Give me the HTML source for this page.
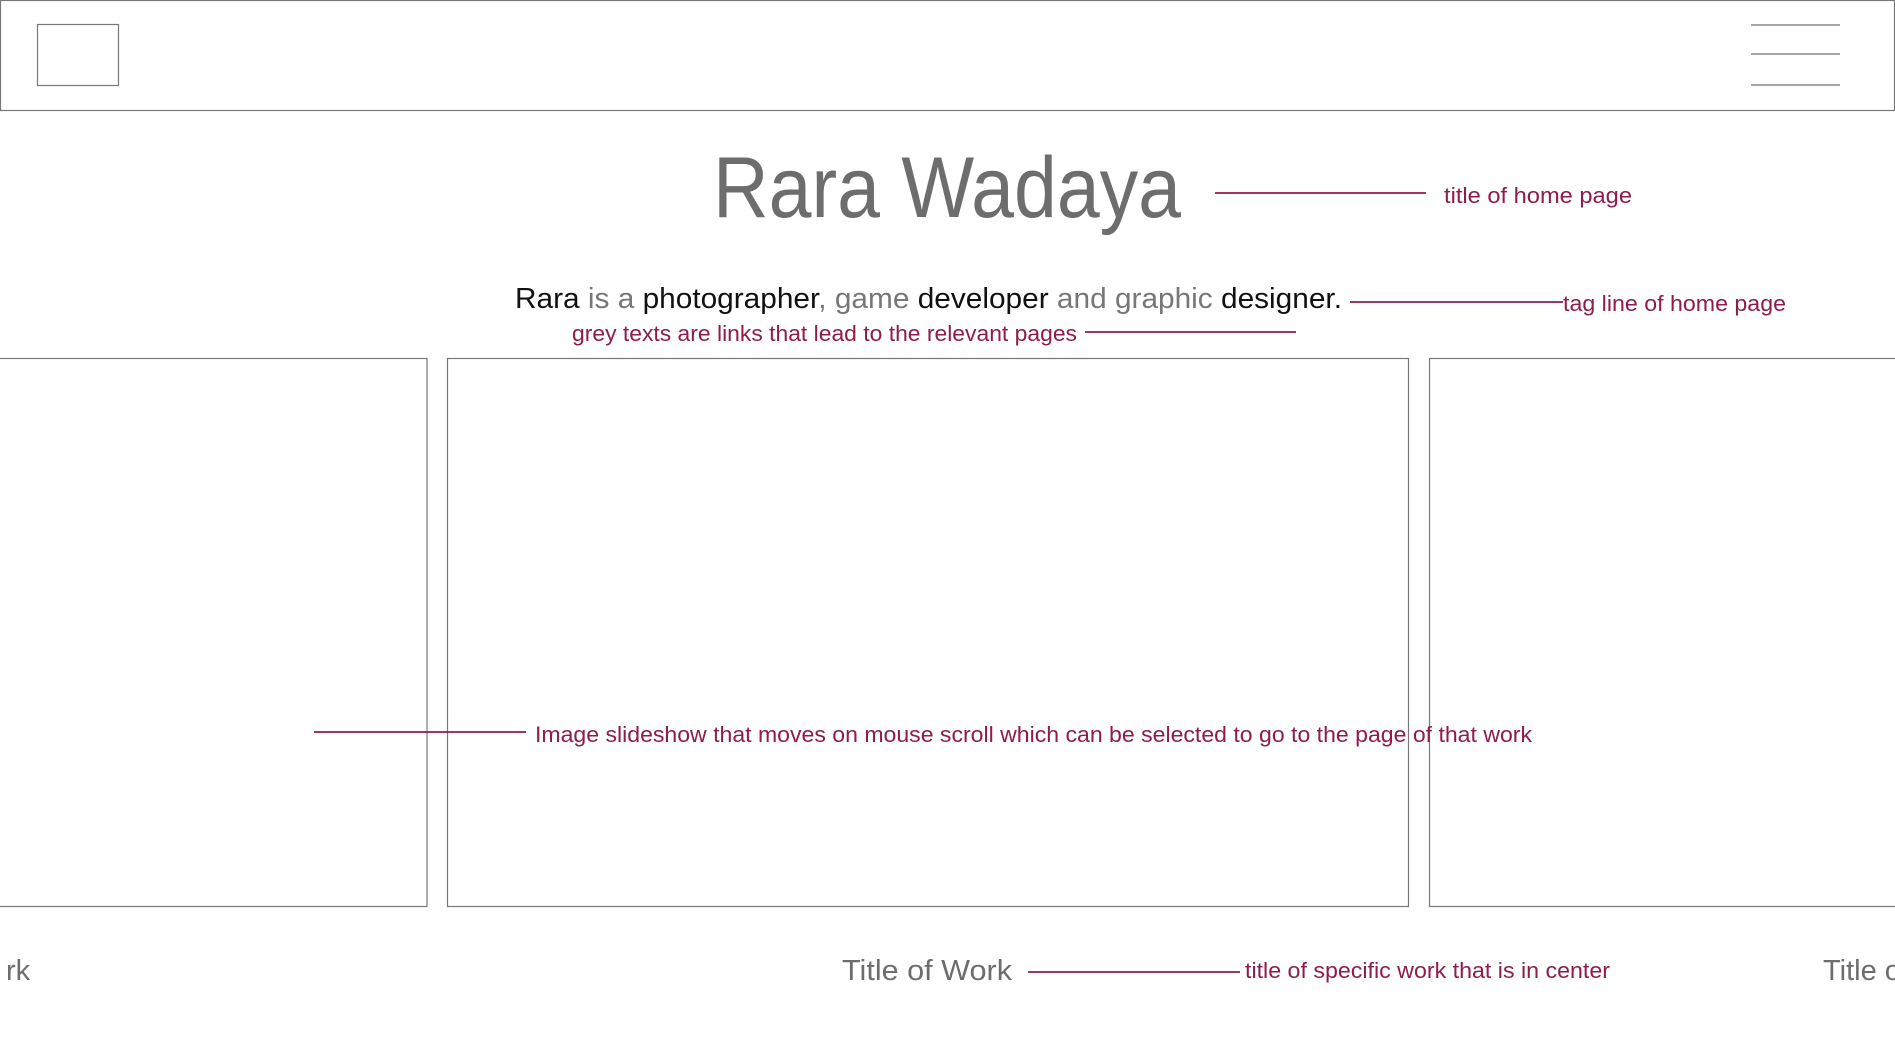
<!DOCTYPE html>
<html><head><meta charset="utf-8"><style>html,body{margin:0;padding:0;background:#fff;overflow:hidden}svg{display:block}</style></head>
<body>
<svg width="1895" height="1060" viewBox="0 0 1895 1060" xmlns="http://www.w3.org/2000/svg" font-family="Liberation Sans, sans-serif">
<rect x="0.5" y="0.5" width="1894" height="110" fill="none" stroke="#777" stroke-width="1.2"/>
<rect x="37.5" y="24.5" width="81" height="61" fill="none" stroke="#777" stroke-width="1.2"/>
<g stroke="#888" stroke-width="1.5"><line x1="1751" y1="25" x2="1840" y2="25"/><line x1="1751" y1="54" x2="1840" y2="54"/><line x1="1751" y1="85" x2="1840" y2="85"/></g>
<g fill="none" stroke="#777" stroke-width="1.2">
<rect x="-2" y="358.5" width="429" height="548"/>
<rect x="447.5" y="358.5" width="961" height="548"/>
<rect x="1429.5" y="358.5" width="480" height="548"/>
</g>
<text x="713" y="217" font-size="86" fill="#6d6d6d" textLength="468" lengthAdjust="spacingAndGlyphs">Rara Wadaya</text>
<text x="515" y="308" font-size="29" textLength="827" lengthAdjust="spacingAndGlyphs" fill="#111">Rara <tspan fill="#777">is a</tspan> photographer<tspan fill="#777">, game</tspan> developer <tspan fill="#777">and graphic</tspan> designer.</text>
<text x="842" y="980" font-size="29" fill="#6d6d6d" textLength="170" lengthAdjust="spacingAndGlyphs">Title of Work</text>
<text x="6" y="980" font-size="29" fill="#6d6d6d">rk</text>
<text x="1823" y="980" font-size="29" fill="#6d6d6d">Title of</text>
<g stroke="#8e1c4e" stroke-width="1.8">
<line x1="1215" y1="193" x2="1426" y2="193"/>
<line x1="1350" y1="302" x2="1563" y2="302"/>
<line x1="1085" y1="332" x2="1296" y2="332"/>
<line x1="314" y1="732" x2="526" y2="732"/>
<line x1="1028" y1="972" x2="1240" y2="972"/>
</g>
<g fill="#8e1c4e" font-size="22">
<text x="1444" y="203" textLength="188" lengthAdjust="spacingAndGlyphs">title of home page</text>
<text x="1563" y="311" textLength="223" lengthAdjust="spacingAndGlyphs">tag line of home page</text>
<text x="572" y="341" textLength="505" lengthAdjust="spacingAndGlyphs">grey texts are links that lead to the relevant pages</text>
<text x="535" y="742" textLength="997" lengthAdjust="spacingAndGlyphs">Image slideshow that moves on mouse scroll which can be selected to go to the page of that work</text>
<text x="1245" y="978" textLength="365" lengthAdjust="spacingAndGlyphs">title of specific work that is in center</text>
</g>
</svg>
</body></html>
